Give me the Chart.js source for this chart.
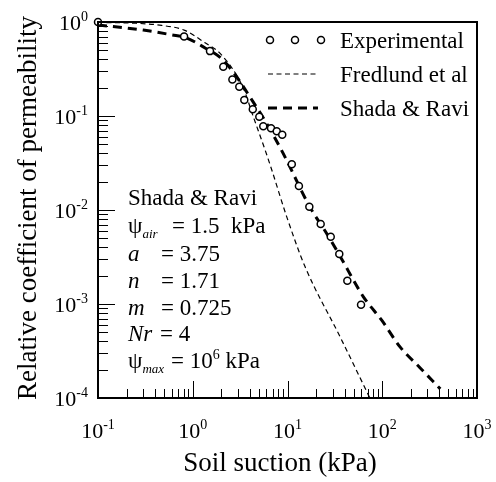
<!DOCTYPE html>
<html>
<head>
<meta charset="utf-8">
<script src="https://cdn.jsdelivr.net/npm/chart.js@4.4.1/dist/chart.umd.min.js"></script>
<style>
    body { margin: 0; background: #fff; }
    #wrap { position: relative; width: 496px; height: 482px; }
    canvas { display: block; }
    #frame {
        position: absolute;
        box-sizing: border-box;
        border-style: solid;
        border-color: #000;
        border-width: 1px 1px 2px 2px;
        pointer-events: none;
    }
    .tk { position: absolute; background: #000; pointer-events: none; }
</style>
</head>
<body>
<div id="wrap">
    <canvas id="chart" width="496" height="482"></canvas>
    <div id="frame"></div>
</div>
<script>
// experimental points (suction kPa, relative permeability)
const expSuction = [0.1, 0.81, 1.52, 2.1, 2.62, 3.1, 3.5, 4.3, 5.04, 5.55, 6.7, 7.7, 8.8, 11.1, 13.2, 17.0, 22.4, 28.6, 35.2, 42.8, 59.7];
const expPerm = [1.0, 0.70, 0.49, 0.335, 0.245, 0.205, 0.148, 0.118, 0.098, 0.078, 0.074, 0.069, 0.063, 0.0306, 0.018, 0.0108, 0.0071, 0.0052, 0.0034, 0.00177, 0.00098];

// Fredlund et al curve
const fredSuction = [0.1, 0.25, 0.47, 0.81, 1.35, 2.0, 3.4, 4.36, 5.8, 6.8, 9.8, 15.3, 35.8, 74];
const fredPerm = [0.99, 0.97, 0.92, 0.82, 0.6, 0.45, 0.2, 0.098, 0.0435, 0.027, 0.0085, 0.0025, 0.00045, 0.0001];

// Shada & Ravi curve
const shadaSuction = [0.1, 0.3, 0.6, 0.85, 1.35, 2.0, 2.7, 4.0, 6.0, 9.0, 17.2, 26, 36, 63, 100, 154, 250, 410];
const shadaPerm = [0.93, 0.82, 0.73, 0.68, 0.53, 0.41, 0.29, 0.16, 0.084, 0.040, 0.0108, 0.0056, 0.0032, 0.0012, 0.00066, 0.00035, 0.00021, 0.000125];

const xPowers = [-1, 0, 1, 2, 3];
const yPowers = [0, -1, -2, -3, -4];
const minorSteps = [2, 3, 4, 5, 6, 7, 8, 9];
const legendLabels = ['Experimental', 'Fredlund et al', 'Shada & Ravi'];
const xTitle = 'Soil suction (kPa)';
const yTitle = 'Relative coefficient of permeability';

const SERIF = '"Liberation Serif", "Times New Roman", serif';

function toPoints(xs, ys) {
    return xs.map((x, i) => ({x: x, y: ys[i]}));
}

function line(ctx, x1, y1, x2, y2) {
    ctx.beginPath();
    ctx.moveTo(x1, y1);
    ctx.lineTo(x2, y2);
    ctx.stroke();
}

// "10" with a raised exponent
function powerWidth(ctx, p) {
    ctx.font = '22px ' + SERIF;
    const w1 = ctx.measureText('10').width;
    ctx.font = '14px ' + SERIF;
    return w1 + ctx.measureText(String(p)).width;
}
function drawPower(ctx, p, x, base) {
    ctx.font = '22px ' + SERIF;
    ctx.fillText('10', x, base);
    const w1 = ctx.measureText('10').width;
    ctx.font = '14px ' + SERIF;
    ctx.fillText(String(p), x + w1, base - 9);
}

function drawRuns(ctx, runs, x, base) {
    let cx = x;
    runs.forEach(r => {
        if (r.at !== undefined) cx = r.at;
        ctx.font = (r.italic ? 'italic ' : '') + (r.size || 23) + 'px ' + SERIF;
        ctx.fillText(r.t, cx, base + (r.dy || 0));
        cx += ctx.measureText(r.t).width;
    });
}

const textPlugin = {
    id: 'textPlugin',
    afterDraw(chart) {
        const ctx = chart.ctx;
        const a = chart.chartArea;
        const x = chart.scales.x;
        const y = chart.scales.y;
        const ds = chart.data.datasets;
        ctx.save();

        // frame
        ctx.strokeStyle = '#000';
        ctx.lineWidth = 2;
        ctx.strokeRect(a.left, a.top, a.right - a.left, a.bottom - a.top);

        ctx.fillStyle = '#000';
        ctx.textAlign = 'left';
        ctx.textBaseline = 'alphabetic';

        // tick labels
        xPowers.forEach(p => {
            const px = x.getPixelForValue(Math.pow(10, p));
            const w = powerWidth(ctx, p);
            drawPower(ctx, p, px - w / 2, 438);
        });
        yPowers.forEach(p => {
            const py = y.getPixelForValue(Math.pow(10, p));
            const w = powerWidth(ctx, p);
            drawPower(ctx, p, 88 - w, py + 8);
        });

        // axis titles
        ctx.font = '27px ' + SERIF;
        ctx.textAlign = 'center';
        ctx.fillText(xTitle, 280, 471);
        ctx.save();
        ctx.translate(36, 208);
        ctx.rotate(-Math.PI / 2);
        ctx.fillText(yTitle, 0, 0);
        ctx.restore();
        ctx.textAlign = 'left';

        // legend
        const rows = [40, 74, 108];
        legendLabels.forEach((label, i) => {
            const cy = rows[i];
            const d = ds[i];
            if (i === 0) {
                [270, 295, 321].forEach(cx => {
                    ctx.beginPath();
                    ctx.arc(cx, cy, d.pointRadius, 0, Math.PI * 2);
                    ctx.fillStyle = '#fff';
                    ctx.fill();
                    ctx.lineWidth = d.pointBorderWidth;
                    ctx.stroke();
                });
            } else {
                ctx.lineWidth = d.borderWidth;
                ctx.setLineDash(d.borderDash);
                line(ctx, 268, cy, 318, cy);
                ctx.setLineDash([]);
            }
            ctx.fillStyle = '#000';
            ctx.font = '23px ' + SERIF;
            ctx.fillText(label, 340, cy + 8);
        });

        // parameter block
        const lx = 128;
        drawRuns(ctx, [{t: 'Shada & Ravi'}], lx, 205);
        drawRuns(ctx, [{t: 'ψ'}, {t: 'air', size: 13, italic: true, dy: 5}, {t: '= 1.5  kPa', at: 172}], lx, 233);
        drawRuns(ctx, [{t: 'a', italic: true}, {t: '= 3.75', at: 161}], lx, 261);
        drawRuns(ctx, [{t: 'n', italic: true}, {t: '= 1.71', at: 161}], lx, 288);
        drawRuns(ctx, [{t: 'm', italic: true}, {t: '= 0.725', at: 161}], lx, 315);
        drawRuns(ctx, [{t: 'Nr', italic: true}, {t: '= 4', at: 160}], lx, 341);
        drawRuns(ctx, [{t: 'ψ'}, {t: 'max', size: 13, italic: true, dy: 5}, {t: '= 10', at: 171}, {t: '6', size: 14, dy: -9}, {t: ' kPa'}], lx, 368);

        ctx.restore();
    }
};

const chart = new Chart(document.getElementById('chart'), {
    type: 'scatter',
    data: {
        datasets: [{
            label: legendLabels[0],
            data: toPoints(expSuction, expPerm),
            showLine: false,
            pointStyle: 'circle',
            pointRadius: 3.5,
            pointBorderWidth: 1.5,
            pointBackgroundColor: '#fff',
            pointBorderColor: '#000',
            clip: 8,
            order: 0
        }, {
            label: legendLabels[1],
            data: toPoints(fredSuction, fredPerm),
            showLine: true,
            borderColor: '#000',
            borderWidth: 1.2,
            borderDash: [5, 3.5],
            pointRadius: 0,
            cubicInterpolationMode: 'monotone',
            fill: false,
            order: 2
        }, {
            label: legendLabels[2],
            data: toPoints(shadaSuction, shadaPerm),
            showLine: true,
            borderColor: '#000',
            borderWidth: 3,
            borderDash: [9, 6],
            pointRadius: 0,
            cubicInterpolationMode: 'monotone',
            fill: false,
            order: 1
        }]
    },
    options: {
        responsive: false,
        animation: false,
        layout: {
            padding: {left: 98, top: 22, right: 19, bottom: 84}
        },
        scales: {
            x: {type: 'logarithmic', min: 0.1, max: 1000, display: false},
            y: {type: 'logarithmic', min: 0.0001, max: 1, display: false}
        },
        plugins: {
            legend: {display: false},
            tooltip: {enabled: false}
        }
    },
    plugins: [textPlugin]
});

// frame box and inward ticks as page elements placed from the chart's scales
const area = chart.chartArea;
const wrap = document.getElementById('wrap');
const frame = document.getElementById('frame');
frame.style.left = (area.left - 1) + 'px';
frame.style.top = (area.top - 1) + 'px';
frame.style.width = (area.right - area.left + 2) + 'px';
frame.style.height = (area.bottom - area.top + 2) + 'px';

function addTick(left, top, w, h) {
    const d = document.createElement('div');
    d.className = 'tk';
    d.style.left = left + 'px';
    d.style.top = top + 'px';
    d.style.width = w + 'px';
    d.style.height = h + 'px';
    wrap.appendChild(d);
}
xPowers.forEach(p => {
    [1].concat(minorSteps).forEach(m => {
        if (p === 3 && m > 1) return;
        const px = Math.round(chart.scales.x.getPixelForValue(m * Math.pow(10, p)));
        const len = m === 1 ? 17 : 9;
        addTick(px, area.bottom - len, 1, len);
    });
});
yPowers.forEach(p => {
    [1].concat(minorSteps).forEach(m => {
        if (p === 0 && m > 1) return;
        const py = Math.round(chart.scales.y.getPixelForValue(m * Math.pow(10, p)));
        const len = m === 1 ? 17 : 10;
        addTick(area.left, py, len, 1);
    });
});
</script>
</body>
</html>
